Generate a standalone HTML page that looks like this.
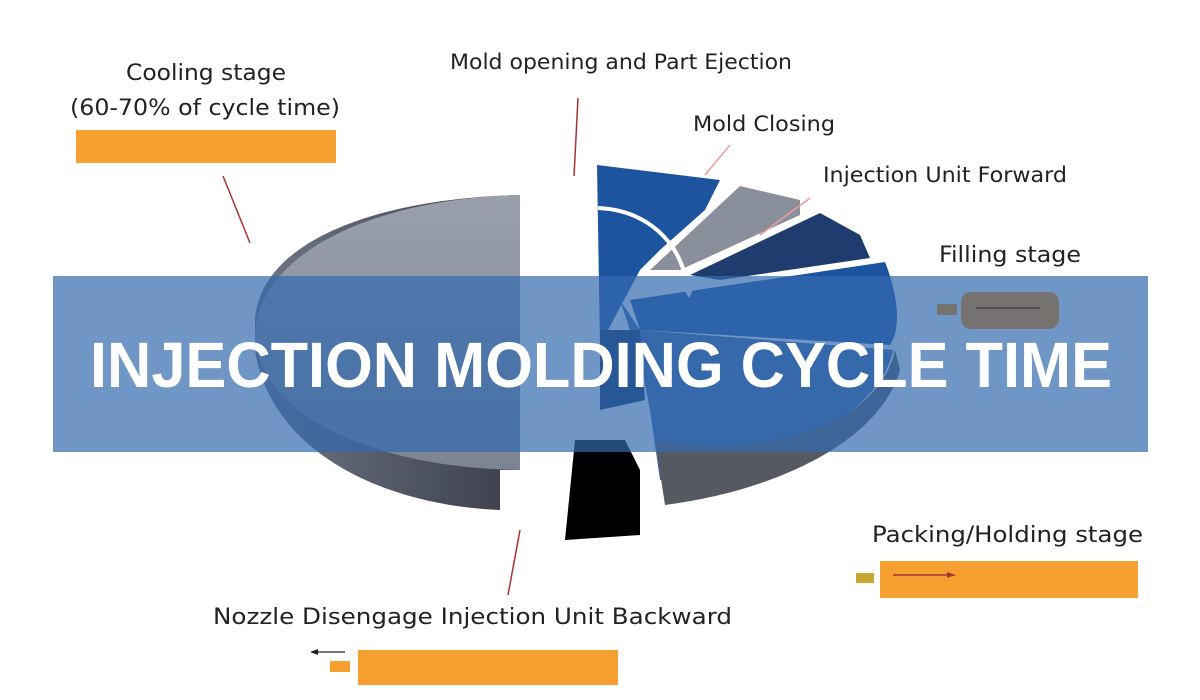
<!DOCTYPE html>
<html><head><meta charset="utf-8"><style>
html,body{margin:0;padding:0;background:#fff;}
svg{display:block;}
text{font-family:"DejaVu Sans","Liberation Sans",sans-serif;fill:#222;}
</style></head><body>
<svg width="1200" height="700" viewBox="0 0 1200 700" xmlns="http://www.w3.org/2000/svg">
<defs>
<linearGradient id="side" x1="0" x2="1"><stop offset="0" stop-color="#6e7585"/><stop offset="1" stop-color="#3a3f4a"/></linearGradient>
<linearGradient id="top" x1="0" y1="0" x2="0" y2="1"><stop offset="0" stop-color="#9aa0ab"/><stop offset="1" stop-color="#7c8494"/></linearGradient>
</defs>
<rect width="1200" height="700" fill="#fff"/>
<!-- left big pie half -->
<path d="M520 195 L520 470 L500 470 L500 510 C380 505 270 450 255 350 L255 320 C260 240 380 198 520 195 Z" fill="url(#side)"/>
<path d="M520 195 L520 470 C380 468 265 420 255 340 C255 250 380 198 520 195 Z" fill="url(#top)"/>
<!-- right part -->
<path d="M597 165 L720 180 L705 210 L660 250 L640 270 L600 345 Z" fill="#1d54a0"/>
<path d="M650 270 L740 186 L800 200 L800 215 L680 270 Z" fill="#8a8f9c"/>
<path d="M690 275 L820 213 L860 235 L870 258 L720 280 Z" fill="#1f3c6e"/>
<path d="M630 300 L885 262 C900 300 900 330 890 345 L640 330 Z" fill="#1d54a0"/>
<path d="M620 300 L640 360 L650 410 L660 480 C760 470 880 420 893 350 L640 330 Z" fill="#3a69a6"/>
<path d="M655 440 L665 505 C780 490 880 440 900 370 L895 350 C880 420 780 460 655 440 Z" fill="#555a62"/>
<path d="M600 330 L640 330 L645 400 L600 410 Z" fill="#0f2d5c"/>
<path d="M575 440 L625 440 L640 470 L640 535 L565 540 Z" fill="#000"/>
<path d="M598 208 C645 210 680 240 687 285" stroke="#fff" stroke-width="4" fill="none"/>
<path d="M678 280 L689 298 L698 278 Z" fill="#fff"/>
<!-- leader lines -->
<g stroke="#a33" stroke-width="1.5">
<line x1="223" y1="176" x2="250" y2="243"/>
<line x1="578" y1="98" x2="574" y2="176"/>
<line x1="730" y1="145" x2="705" y2="175" stroke="#e99"/>
<line x1="810" y1="198" x2="760" y2="235" stroke="#e99"/>
<line x1="520" y1="530" x2="508" y2="595"/>
</g>
<!-- orange bars -->
<rect x="76" y="130" width="260" height="33" fill="#f5a030"/>
<rect x="880" y="561" width="258" height="37" fill="#f5a030"/>
<rect x="856" y="573" width="18" height="10" fill="#c8a830"/>
<line x1="893" y1="575" x2="955" y2="575" stroke="#a33" stroke-width="1.5"/>
<path d="M955 575 l-8 -3 v6 z" fill="#a33"/>
<rect x="358" y="650" width="260" height="35" fill="#f5a030"/>
<rect x="330" y="661" width="20" height="11" fill="#f5a030"/>
<line x1="312" y1="652" x2="345" y2="652" stroke="#222" stroke-width="1.2"/>
<path d="M310 652 l8 -3 v6 z" fill="#222"/>
<!-- labels -->
<text x="126" y="80" font-size="22" textLength="160" lengthAdjust="spacingAndGlyphs">Cooling stage</text>
<text x="70" y="115" font-size="22" textLength="270" lengthAdjust="spacingAndGlyphs">(60-70% of cycle time)</text>
<text x="450" y="69" font-size="21" textLength="342" lengthAdjust="spacingAndGlyphs">Mold opening and Part Ejection</text>
<text x="693" y="131" font-size="21" textLength="142" lengthAdjust="spacingAndGlyphs">Mold Closing</text>
<text x="823" y="182" font-size="21" textLength="244" lengthAdjust="spacingAndGlyphs">Injection Unit Forward</text>
<text x="939" y="262" font-size="22" textLength="142" lengthAdjust="spacingAndGlyphs">Filling stage</text>
<text x="872" y="542" font-size="22" textLength="271" lengthAdjust="spacingAndGlyphs">Packing/Holding stage</text>
<text x="213" y="624" font-size="22" textLength="519" lengthAdjust="spacingAndGlyphs">Nozzle Disengage Injection Unit Backward</text>
<!-- banner -->
<rect x="53" y="276" width="1095" height="176" fill="rgb(51,105,174)" fill-opacity="0.7"/>
<!-- filling stage icon -->
<rect x="961" y="292" width="98" height="37" rx="10" fill="#767270"/>
<rect x="937" y="304" width="20" height="11" rx="2" fill="#767270"/>
<line x1="976" y1="308" x2="1040" y2="308" stroke="#445" stroke-width="1.5"/>
<text x="90" y="387" font-family="Liberation Sans" font-size="64" font-weight="bold" style="fill:#fff;font-family:'Liberation Sans',sans-serif" textLength="1022" lengthAdjust="spacingAndGlyphs">INJECTION MOLDING CYCLE TIME</text>
</svg>
</body></html>
